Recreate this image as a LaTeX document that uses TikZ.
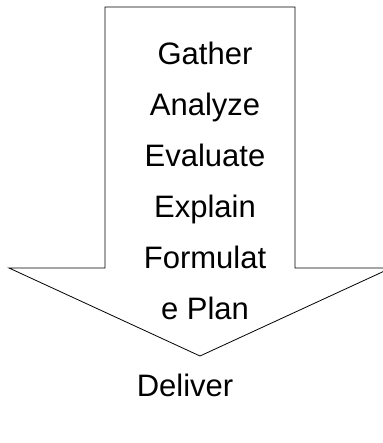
\documentclass[tikz,border=0pt]{standalone}
\usepackage{fontspec}
\setmainfont{Liberation Sans}
\usetikzlibrary{positioning}
\tikzset{
  arrowline/.style={draw=black, line width=0.8pt, line join=miter},
  word/.style={anchor=base, inner sep=0pt, font=\fontsize{31}{37}\selectfont}
}
\begin{document}
\begin{tikzpicture}[x=1pt, y=1pt]
\useasboundingbox (0,0) rectangle (382,443);
\draw[arrowline] (105,436) -- (295,436) -- (295,175) -- (391,175) -- (200,87) -- (9,175) -- (105,175) -- cycle;
\node[word] (gather) at (205,378) {Gather};
\node[word] (analyze) at (205,327) {Analyze};
\node[word] (evaluate) at (205,276) {Evaluate};
\node[word] (explain) at (205,225) {Explain};
\node[word] (formulat) at (205,174) {Formulat};
\node[word] (plan) at (205,123) {e Plan};
\node[word] (deliver) at (185,46) {Deliver};
\end{tikzpicture}
\end{document}
